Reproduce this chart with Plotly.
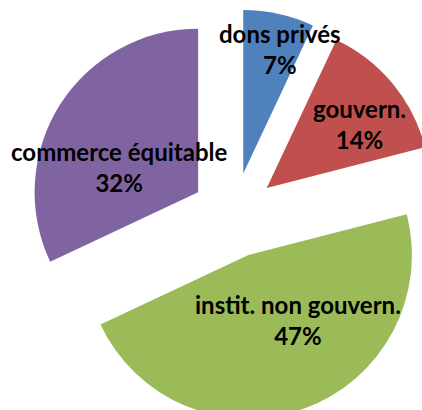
import plotly.graph_objects as go

categories = ["dons privés", "gouvern.", "instit. non gouvern.", "commerce équitable"]
values = [7, 14, 47, 32]
colors = ["#4F81BD", "#C0504D", "#9BBB59", "#8064A2"]

W, H = 440, 425
# label anchor points in pixels (layout), one per category
label_px = [(280, 49), (359, 124), (298, 320), (119, 167)]

fig = go.Figure(go.Pie(
    labels=categories,
    values=values,
    sort=False,
    direction="clockwise",
    rotation=0,
    pull=[0.26] * len(values),
    marker=dict(colors=colors, line=dict(width=0)),
    textinfo="none",
    hoverinfo="label+percent",
    domain=dict(x=[28 / W, 1], y=[(H - 421) / H, (H - 9) / H]),
    showlegend=False,
))

total = sum(values)
for cat, v, (px, py) in zip(categories, values, label_px):
    fig.add_annotation(
        x=px / W, y=1 - py / H, xref="paper", yref="paper",
        text=f"{cat}<br>{round(100 * v / total)}%",
        showarrow=False,
        font=dict(family="Lato", size=24, color="black", weight="bold"),
        align="center", xanchor="center", yanchor="middle",
    )

fig.update_layout(
    width=W, height=H,
    margin=dict(l=0, r=0, t=0, b=0),
    paper_bgcolor="white", plot_bgcolor="white",
)

fig.write_html(
    "out.html",
    config={"displayModeBar": False},
    post_script="document.body.style.margin='0';document.body.style.overflow='hidden';",
)
